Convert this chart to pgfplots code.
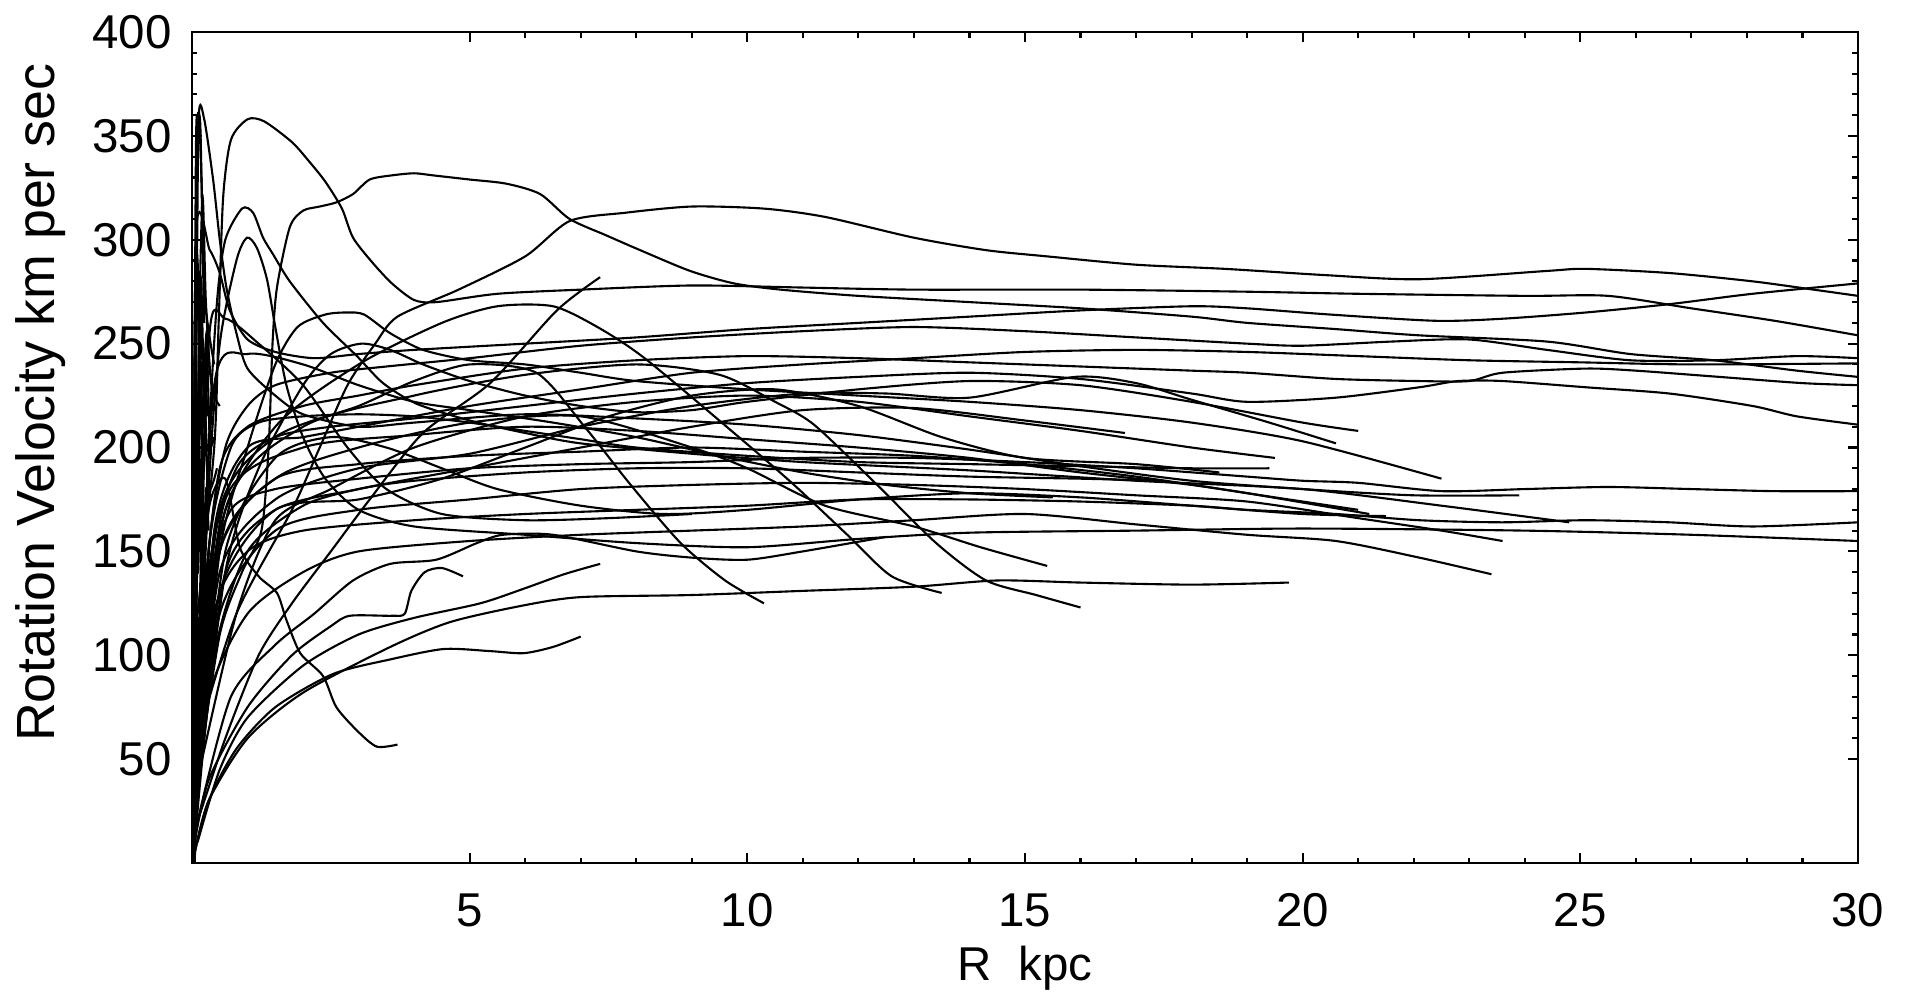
\documentclass[border=0pt]{standalone}
\usepackage{fontspec}
\setmainfont{Liberation Sans}
\usepackage{pgfplots}
\pgfplotsset{compat=1.18}
\begin{document}
\begin{tikzpicture}[font=\fontsize{13.5pt}{16pt}\selectfont]
\useasboundingbox (-1.92cm,-1.43cm) rectangle (17.18cm,8.63cm);
\begin{axis}[
  at={(0,0)}, anchor=south west,
  width=16.66cm, height=8.31cm, scale only axis,
  xmin=0, xmax=30, ymin=0, ymax=400,
  xtick={5,10,15,20,25,30}, ytick={50,100,150,200,250,300,350,400},
  minor x tick num=4, minor y tick num=4,
  tick align=inside,
  major tick length=0.1cm, minor tick length=0.055cm,
  every tick/.style={black, line width=0.6pt},
  axis line style={line width=0.8pt},
  /pgf/number format/assume math mode=true,
  xticklabel style={yshift=-0.18cm},
  yticklabel style={xshift=-0.08cm},
  xlabel={R\ \ kpc},
  xlabel style={yshift=0.05cm},
  ylabel={Rotation Velocity km per sec},
  ylabel style={at={(axis description cs:-0.0906,0.554)}, anchor=center, font=\fontsize{15.3pt}{17pt}\selectfont},
  rc/.style={black, line width=0.6pt, smooth, tension=0.45},
]
% 1 peak 358
\addplot[rc] coordinates {(0.1,120)(0.4,200)(0.48,260)(0.56,320)(0.7,348)(1.0,358)(1.3,357)(1.8,347)(2.1,338)(2.4,328)(2.7,315)(2.9,301)(3.25,289)(3.6,279)(4.0,271)(4.4,270)(5.5,274)(7,276)(9,278)(11,277)(13,276)(16,276)(19,275)(21,274)(24,273)(25.5,273)(27,267)(28.5,261)(30,254)};
% 2 top long
\addplot[rc] coordinates {(0.1,60)(0.8,120)(1.8,170)(2.3,200)(2.8,230)(3.3,250)(3.7,263)(4.8,276)(6,292)(6.8,309)(7.8,313)(9,316)(10.3,315)(11.4,311)(13,301)(14.3,295)(15.4,292)(17,288)(18.6,286)(20.4,283)(22.1,281)(24.4,285)(25.1,286)(26.6,284)(28.1,280)(29.2,276)(30,273)};
% 3 plateau 333
\addplot[rc] coordinates {(0.1,40)(0.5,110)(0.9,140)(1.25,160)(1.38,200)(1.45,250)(1.53,277)(1.76,306)(2.0,314)(2.3,316)(2.6,318)(2.9,322)(3.2,329)(3.6,331)(4.0,332)(4.34,331)(5.0,329)(5.66,327)(6.27,322)(6.8,310)(7.47,302)(8.07,295)(8.97,285)(9.76,279)(10.6,276)(12,273)(14,270)(16,267)(18,263)(19,260)(20.6,257)(22.1,254)(24.4,251)(25.9,245)(27.4,242)(28.9,237)(30,234)};
% 4 peak 315
\addplot[rc] coordinates {(0.05,20)(0.3,200)(0.45,270)(0.6,300)(0.9,315)(1.1,313)(1.28,301)(1.46,293)(1.76,280)(2.36,260)(2.97,244)(3.44,231)(4.05,221)(5,213)(6,207)(7,202)(9,197)(11,193)(14,189)(17,184)(20,180)(22.5,172)(24.8,164)};
% 5 hump 300
\addplot[rc] coordinates {(0.05,30)(0.3,180)(0.5,250)(0.8,290)(0.99,301)(1.17,296)(1.35,281)(1.5,258)(1.7,230)(2.0,205)(2.4,185)(3.0,170)(4,162)(6,158)(8,154)(10,152)(12,156)(14,159)(17,160)(20,161)(24,160)(27,158)(30,155)};
% 6 spike 360
\addplot[rc] coordinates {(0.02,20)(0.08,250)(0.12,358)(0.22,358)(0.38,329)(0.5,300)(0.62,277)(0.8,255)(1.0,238)(1.5,225)(2,216)(3,210)(4,212)(6,216)(8,214)(10,211)(12,206)(14,199)(16,191)(18,184)(20,180)(22,177)(23.9,177)};
% 7 spike 300 -> 279
\addplot[rc] coordinates {(0.02,40)(0.07,300)(0.32,295)(0.5,284)(0.68,266)(1.0,252)(1.5,246)(2.2,243)(3,245)(4,247)(6,250)(8,253)(10,257)(12,260)(14,263)(16,266)(18,268)(19,267)(20.5,264)(22.4,261)(23.6,262)(25.1,265)(26.6,269)(28.1,274)(30,279)};
% 8 -> 243
\addplot[rc] coordinates {(0.05,30)(0.3,150)(0.6,200)(1,220)(1.5,230)(2.5,236)(3.5,239)(5,243)(7,249)(9,253)(11,256)(13,258)(15,256)(17,253)(19,250)(20,249)(21.6,251)(23,252)(24.4,247)(25.9,242)(27.4,242)(28.9,244)(30,243)};
% 9 -> 230
\addplot[rc] coordinates {(0.05,10)(0.2,120)(0.5,190)(1,210)(2,220)(3,225)(4,230)(6,238)(8,242)(10,244)(12,243)(14,241)(16,239)(18,237)(19,236)(20.6,233)(22.1,232)(23,232)(23.6,236)(25.1,238)(26,237)(27.5,234)(29,231)(30,230)};
% 10 -> 240
\addplot[rc] coordinates {(0.05,20)(0.4,160)(1,200)(2,205)(3,210)(5,220)(7,228)(9,236)(11,240)(13,243)(15,246)(17,247)(19,246)(21,244)(23,242)(25,241)(27,240)(30,240.5)};
% 11 -> 211
\addplot[rc] coordinates {(0.05,10)(0.3,140)(0.8,190)(1.5,205)(2.5,210)(4,214)(6,220)(8,226)(10,231)(12,234)(14,236)(16,233)(18,226)(19,222)(20.6,224)(22.1,229)(22.8,232)(23.6,232)(25.1,229)(26.6,226)(28.1,220)(28.9,215)(30,211)};
% 12 -> 179
\addplot[rc] coordinates {(0.05,20)(0.3,130)(0.7,170)(1.5,180)(3,185)(5,190)(7,192)(9,193)(11,195)(13,195)(15,193)(17,190)(19,186)(20,184)(21,183)(22.5,179)(24,180)(25.5,181)(27,180)(28.5,179)(30,179)};
% 13 -> 164
\addplot[rc] coordinates {(0.05,15)(0.4,120)(1,150)(2,160)(4,165)(6,168)(8,170)(10,172)(12,175)(14,175)(16,174)(18,172)(19,170)(20.6,168)(22.1,165)(23.6,164)(25.1,165)(26.6,164)(28.1,162)(30,164)};
% 14 hump 234 at 16, ends 203
\addplot[rc] coordinates {(0.05,30)(0.5,140)(1.5,175)(3,190)(5,197)(7,210)(9,220)(11,226)(12.5,226)(14,224)(15.9,234)(17,231)(18,223)(19.4,212)(20.6,202)};
% 15 steep riser to 282
\addplot[rc] coordinates {(0.1,20)(0.6,60)(1.2,100)(1.8,125)(2.5,150)(3.2,175)(4.16,207)(5.37,231)(6.57,266)(7.35,282)};
% 16 ends 56
\addplot[rc] coordinates {(0.1,100)(0.3,170)(0.6,185)(0.86,152)(1.2,138)(1.53,130)(1.7,117)(1.95,101)(2.36,90)(2.6,75)(3.0,63)(3.33,56)(3.7,57)};
% 17 ends 109
\addplot[rc] coordinates {(0.05,5)(0.3,30)(0.8,55)(1.5,75)(2.54,91)(3.57,98)(4.53,103)(5.37,102)(5.97,101)(6.5,104)(7.0,109)};
% 18 ends 139
\addplot[rc] coordinates {(0.05,10)(0.3,40)(1.0,75)(1.8,100)(2.5,114)(2.84,119)(3.6,119)(3.83,120)(3.95,131)(4.19,140)(4.5,142)(4.88,138)};
% 19 flat 135
\addplot[rc] coordinates {(0.05,5)(0.3,30)(1,60)(2,82)(3.57,104)(4.65,116)(5.97,124)(7,128)(9,129)(11,131)(13,133)(14.5,136)(16,135)(18,134)(19.75,135)};
% 20 ends 144
\addplot[rc] coordinates {(0.1,10)(0.5,45)(1,70)(2,95)(3,110)(4,118)(5.19,125)(5.97,132)(6.7,139)(7.35,144)};
% 21 ends 125 at 10.3
\addplot[rc] coordinates {(0.05,50)(0.5,170)(1.5,205)(3,220)(4,232)(5,240)(6.2,236)(7.07,210)(7.9,182)(8.8,154)(9.6,136)(10.3,125)};
% 22 ends 130 at 13.5
\addplot[rc] coordinates {(0.05,30)(0.5,160)(1.5,210)(3,240)(4.5,260)(5.5,268)(6.5,268)(7.3,258)(8.15,243)(9.76,207)(10.8,183)(11.8,158)(12.6,138)(13.5,130)};
% 23 ends 143 at 15.4
\addplot[rc] coordinates {(0.05,20)(0.5,150)(1.5,185)(3,200)(5,212)(7,215)(9,200)(10,190)(11.4,172)(13,162)(14.2,152)(15.4,143)};
% 24 ends 123 at 16
\addplot[rc] coordinates {(0.05,25)(0.6,170)(2,210)(4,225)(6,235)(8,240)(9.5,235)(10.5,222)(11.2,211)(12.3,183)(13.4,154)(14.3,136)(15.2,129)(16.0,123)};
% 25 ends 207 at 16.8
\addplot[rc] coordinates {(0.1,30)(0.6,140)(1.5,170)(3,180)(5,190)(7,200)(9,210)(11,218)(13,219)(15,213)(16.8,207)};
% 26 ends 139 at 23.4
\addplot[rc] coordinates {(0.05,10)(0.3,80)(1,120)(2,140)(3,150)(5,155)(7,158)(9,160)(11,162)(13,165)(15,168)(17,163)(19,158)(20.6,155)(22.1,147)(23.4,139)};
% 27 ends 155 at 23.6
\addplot[rc] coordinates {(0.05,20)(0.5,120)(1.5,160)(3,170)(5,175)(7,180)(9,182)(11,183)(13,182)(15,180)(17,177)(19,174)(21,166)(22.5,160)(23.6,155)};
% 28 ends 168 at 21.2
\addplot[rc] coordinates {(0.05,40)(0.5,150)(1.5,185)(3,192)(5,196)(7,198)(9,200)(11,198)(13,196)(15,192)(17,186)(19,178)(21.2,168)};
% 29 ends 170 at 21
\addplot[rc] coordinates {(0.1,60)(0.6,175)(2,200)(4,206)(6,210)(8,208)(10,204)(12,200)(14,195)(16,188)(18,182)(19.5,176)(21,170)};
% 32 low 150 line
\addplot[rc] coordinates {(0.1,20)(0.7,80)(1.5,105)(2.2,120)(2.9,136)(3.57,144)(4.4,146)(5.13,154)(5.6,158)(6.5,158)(8,150)(9,147)(10,146)(11,150)(12.5,157)};
% 33 hump 265
\addplot[rc] coordinates {(0.05,30)(0.5,150)(1,200)(1.5,240)(1.9,258)(2.4,264)(2.79,265)(3.1,264)(3.57,255)(4.16,247)(5,242)(6,240)(7,236)(8,232)(10,228)(12,225)(14,222)(16,218)(18,212)(20,203)(22.5,185)};
% 34 hump 250
\addplot[rc] coordinates {(0.05,20)(0.6,140)(1.2,190)(2,230)(2.5,245)(3.05,250)(3.57,247)(4.16,240)(5,232)(6,225)(7,220)(8,217)(9,218)(10,222)(12,228)(14,232)(16,230)(18,222)(20,212)(21,208)};
% 35 ends 190 at 19.4
\addplot[rc] coordinates {(0.05,15)(0.3,150)(0.7,200)(1.2,212)(2,215)(3,216)(4,215)(5,212)(6,208)(7,204)(8,200)(10,196)(12,193)(14,192)(16,191)(18,190)(19.4,190)};
% 37 ends 184 at 17.5
\addplot[rc] coordinates {(0.05,10)(0.4,100)(1,150)(2,172)(3,180)(4,184)(6,188)(8,190)(10,190)(12,188)(14,186)(16,185)(17.5,184)};
% 38
\addplot[rc] coordinates {(0.1,40)(0.8,120)(1.5,165)(2.5,180)(4,200)(6,215)(8,222)(10,225)(12,222)(14,215)(16,208)(18,200)(19.5,195)};
% 39 crossing mid
\addplot[rc] coordinates {(0.05,20)(0.5,130)(1.5,170)(3,175)(4.5,185)(6,200)(7.5,215)(9,225)(10.5,228)(12,220)(13.5,205)(15,195)(17,192)(18.5,188)};
% 40
\addplot[rc] coordinates {(0.1,30)(0.6,150)(1.5,195)(2.5,205)(3.5,200)(4.5,190)(5.5,180)(7,172)(8.5,168)(10,170)(12,175)(14,178)(16,176)(18,172)(20,168)(21.5,167)};
% 41
\addplot[rc] coordinates {(0.05,60)(0.4,230)(1,245)(2,240)(3,230)(4,222)(5,218)(6.5,212)(8,205)(9.5,196)(11,188)(12.5,182)(14,178)(15.5,176)};
% 42
\addplot[rc] coordinates {(0.05,40)(0.3,250)(0.6,262)(1.2,250)(2,230)(2.8,200)(3.5,180)(4.5,168)(6,165)(7.5,166)(9,168)};
% inner spikes
\addplot[rc] coordinates {(0.02,5)(0.08,300)(0.12,360)(0.17,330)(0.24,270)(0.4,240)};
\addplot[rc] coordinates {(0.03,10)(0.12,240)(0.19,320)(0.25,270)(0.35,230)(0.5,220)};
\addplot[rc] coordinates {(0.02,0)(0.1,180)(0.16,280)(0.22,220)(0.3,180)(0.45,190)};
\addplot[rc] coordinates {(0.04,20)(0.09,150)(0.15,230)(0.2,160)(0.28,130)(0.4,140)};
\addplot[rc] coordinates {(0.02,5)(0.07,100)(0.13,200)(0.18,120)(0.24,90)(0.35,100)};
\addplot[rc] coordinates {(0.05,0)(0.1,60)(0.16,120)(0.21,190)(0.26,250)(0.32,200)};
\addplot[rc] coordinates {(0.02,10)(0.06,220)(0.1,290)(0.15,210)(0.2,250)(0.27,200)(0.4,205)};
\addplot[rc] coordinates {(0.03,30)(0.08,120)(0.14,90)(0.19,170)(0.23,110)(0.3,150)};
\addplot[rc] coordinates {(0.02,20)(0.05,260)(0.09,180)(0.13,250)(0.18,200)(0.22,240)(0.28,215)};
\addplot[rc] coordinates {(0.03,60)(0.06,170)(0.11,140)(0.15,190)(0.2,140)(0.25,180)(0.3,160)};
\addplot[rc] coordinates {(0.02,40)(0.05,90)(0.1,50)(0.14,110)(0.19,70)(0.24,120)(0.3,95)};
\addplot[rc] coordinates {(0.04,120)(0.07,230)(0.11,200)(0.16,260)(0.21,230)(0.26,255)(0.32,235)};
\addplot[rc] coordinates {(0.03,150)(0.07,340)(0.1,360)(0.15,355)(0.19,300)(0.22,260)};
\end{axis}
\end{tikzpicture}
\end{document}
